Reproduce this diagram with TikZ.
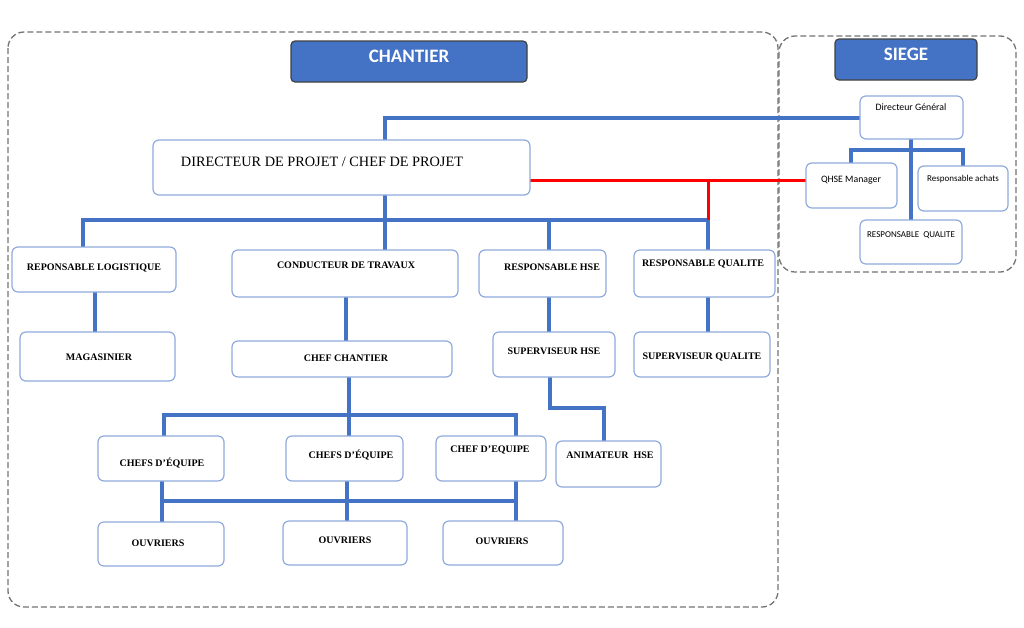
\documentclass[tikz,border=0pt]{standalone}
\usepackage{fontspec}
\setmainfont{Liberation Serif}
\newfontfamily\calf{Carlito}
\begin{document}
\definecolor{bl}{HTML}{4472C4}
\begin{tikzpicture}[x=1pt,y=-1pt,
 bx/.style={draw=bl!60,line width=1.2pt,rounded corners=6pt},
 fr/.style={draw=black!55,dash pattern=on 6pt off 3pt,line width=1.3pt,rounded corners=16pt},
 hd/.style={draw=black!75,fill=bl,rounded corners=4pt,line width=1.2pt},
 ln/.style={draw=bl,line width=3.2pt},
 tl/.style={draw=bl,line width=4.5pt},
 rd/.style={draw=red,line width=3pt},
 t/.style={font=\bfseries\fontsize{10}{11}\selectfont,anchor=center},
 s/.style={font=\calf\fontsize{9.8}{11}\selectfont,anchor=center}]
\useasboundingbox (0,0) rectangle (1024,627);
\draw[fr] (8,32) rectangle (778,607);
\draw[fr] (779,36) rectangle (1016,272);
\draw[hd] (291,41) rectangle (527,82);
\node[font=\calf\bfseries\fontsize{19}{21}\selectfont,text=white] (hc) at (409,56) {CHANTIER};
\draw[hd] (835,39) rectangle (977,80);
\node[font=\calf\bfseries\fontsize{19}{21}\selectfont,text=white] (hs) at (906,54) {SIEGE};
% lines
\draw[ln] (860,118) -- (385,118) -- (385,140);
\draw[ln] (911,139) -- (911,220);
\draw[ln] (851,163) -- (851,150) -- (963,150) -- (963,166);
\draw[tl] (385,195) -- (385,250);
\draw[tl] (83,247) -- (83,220) -- (708,220) -- (708,250);
\draw[ln] (549,220) -- (549,250);
\draw[rd] (530,180) -- (806,180);
\draw[rd] (708,180) -- (708,220);
\draw[ln] (95,292) -- (95,332);
\draw[ln] (346,297) -- (346,341);
\draw[ln] (549,297) -- (549,332);
\draw[ln] (708,297) -- (708,332);
\draw[ln] (349,377) -- (349,436);
\draw[ln] (164,436) -- (164,415) -- (516,415) -- (516,436);
\draw[ln] (550,377) -- (550,408) -- (604,408) -- (604,441);
\draw[ln] (162,481) -- (162,522);
\draw[ln] (347,481) -- (347,521);
\draw[ln] (516,481) -- (516,521);
\draw[ln] (162,501) -- (516,501);
% boxes
\draw[bx,fill=white] (860,96) rectangle (963,139);
\node[s] (dg) at (911,107) {Directeur Général};
\draw[bx,fill=white] (806,163) rectangle (897,208);
\node[s] (qm) at (851,180) {QHSE Manager};
\draw[bx,fill=white] (918,166) rectangle (1008,211);
\node[s,font=\calf\fontsize{9}{10}\selectfont] (ra) at (963,179) {Responsable achats};
\draw[bx,fill=white] (860,220) rectangle (962,264);
\node[s,font=\calf\fontsize{9}{10}\selectfont] (rq) at (911,235) {RESPONSABLE\ \ QUALITE};
\draw[bx,fill=white] (153,140) rectangle (530,195);
\node[font=\fontsize{14.3}{16}\selectfont] (dp) at (322,162) {DIRECTEUR DE PROJET / CHEF DE PROJET};
\draw[bx,fill=white] (12,247) rectangle (176,292);
\node[t] (rl) at (94,268) {REPONSABLE LOGISTIQUE};
\draw[bx,fill=white] (232,250) rectangle (458,297);
\node[t] (ct) at (346,265) {CONDUCTEUR DE TRAVAUX};
\draw[bx,fill=white] (479,250) rectangle (606,297);
\node[t] (rh) at (552,267) {RESPONSABLE HSE};
\draw[bx,fill=white] (634,250) rectangle (775,297);
\node[t] (rqc) at (703,264) {RESPONSABLE QUALITE};
\draw[bx,fill=white] (20,332) rectangle (175,381);
\node[t] (mg) at (99,357) {MAGASINIER};
\draw[bx,fill=white] (232,341) rectangle (452,377);
\node[t] (cc) at (346,358) {CHEF CHANTIER};
\draw[bx,fill=white] (493,332) rectangle (615,377);
\node[t] (sh) at (554,351) {SUPERVISEUR HSE};
\draw[bx,fill=white] (634,332) rectangle (770,377);
\node[t] (sq) at (702,357) {SUPERVISEUR QUALITE};
\draw[bx,fill=white] (98,436) rectangle (224,481);
\node[t] (ce1) at (162,463) {CHEFS D'ÉQUIPE};
\draw[bx,fill=white] (286,436) rectangle (403,481);
\node[t] (ce2) at (351,455) {CHEFS D'ÉQUIPE};
\draw[bx,fill=white] (436,436) rectangle (546,481);
\node[t] (ce3) at (490,450) {CHEF D'EQUIPE};
\draw[bx,fill=white] (556,441) rectangle (661,487);
\node[t] (ah) at (610,455) {ANIMATEUR\ \ HSE};
\draw[bx,fill=white] (98,522) rectangle (224,566);
\node[t] (o1) at (158,543) {OUVRIERS};
\draw[bx,fill=white] (283,521) rectangle (407,565);
\node[t] (o2) at (345,540) {OUVRIERS};
\draw[bx,fill=white] (443,521) rectangle (563,565);
\node[t] (o3) at (502,541) {OUVRIERS};
\end{tikzpicture}
\end{document}
